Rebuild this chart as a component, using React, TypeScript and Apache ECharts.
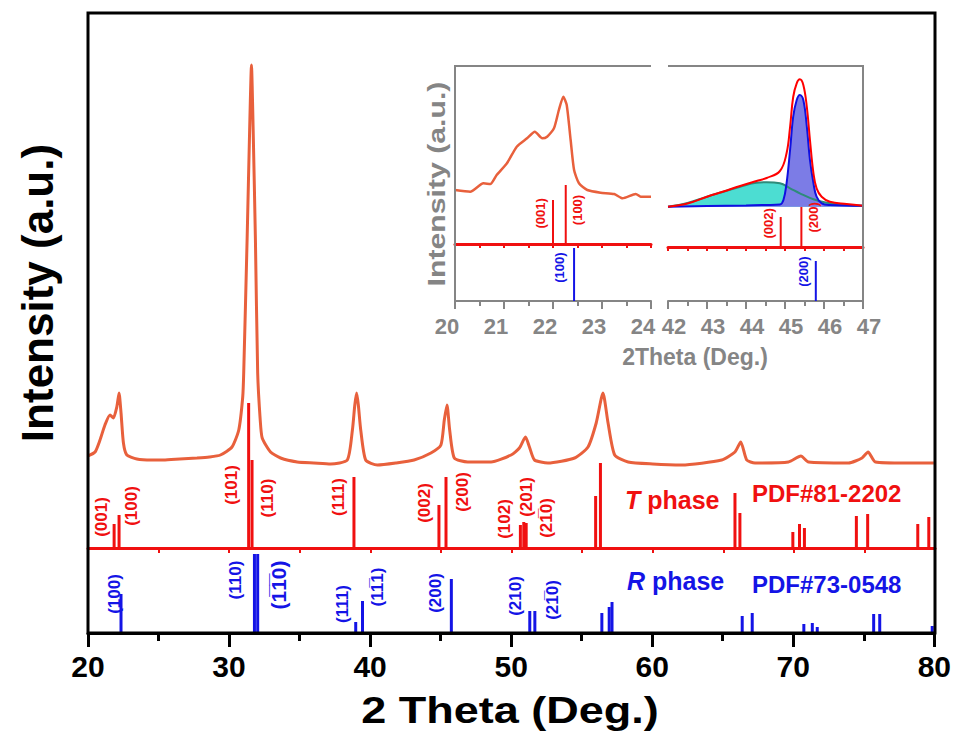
import React, { useEffect, useRef } from "react";
import * as echarts from "echarts";

const FONT = "'Liberation Sans', Arial, sans-serif";
const ORANGE = "#E8603C";
const RED = "#F01010";
const BLUE = "#1414E6";
const GRAY = "#858585";

// Main XRD pattern (2θ, intensity a.u.)
const xrdTheta = [20.0, 20.5, 20.85, 21.2, 21.56, 21.8, 22.04, 22.2, 22.34, 22.51, 22.75, 23.46, 24.5, 25.35, 26.5, 27.72, 28.6, 29.38, 30.2, 30.68, 30.96, 31.03, 31.27, 31.45, 31.58, 31.7, 31.86, 32.02, 32.2, 32.34, 32.93, 33.64, 34.82, 36.0, 37.19, 38.37, 38.73, 38.9, 39.03, 39.15, 39.32, 39.67, 40.5, 41.8, 43.1, 44.29, 45.0, 45.24, 45.43, 45.62, 45.95, 46.9, 48.55, 49.97, 50.56, 50.99, 51.27, 51.63, 52.58, 54.47, 55.42, 56.0, 56.48, 56.84, 57.31, 58.26, 60.0, 62.05, 64.89, 65.83, 66.24, 66.66, 67.25, 69.62, 70.5, 71.04, 73.88, 74.83, 75.26, 75.78, 77.91, 79.92];
const xrdInt = [92, 96, 108, 123, 133, 130, 141, 155, 135, 105, 93, 89, 88, 88, 89, 90, 91, 93, 101, 118, 151, 175, 308, 418, 483, 418, 308, 175, 128, 110, 96, 90, 86, 85, 84, 88, 118, 143, 155, 143, 118, 88, 83, 85, 88, 95, 103, 128, 143, 118, 90, 86, 86, 93, 100, 111, 101, 88, 85, 90, 101, 125, 155, 125, 93, 86, 84, 83, 88, 96, 106, 88, 85, 86, 92, 86, 85, 90, 96, 86, 85, 85];

// T phase reference, PDF#81-2202
const tTheta = [21.85, 22.2, 31.38, 31.62, 38.84, 44.86, 45.36, 50.63, 50.87, 51.04, 55.96, 56.3, 65.83, 66.18, 69.93, 70.4, 70.75, 74.43, 75.23, 78.78, 79.56];
const tInt = [24, 33, 145, 88, 71, 43, 71, 23, 26, 25, 52, 85, 55, 35, 16, 24, 20, 32, 34, 24, 31];
const tLabels = ["(001)", "(100)", "(101)", "(110)", "(111)", "(002)", "(200)", "(102)", "(201)", "(21\u03050)"];
const tLabelTheta = [20.97, 23.1, 30.2, 32.7, 37.78, 43.81, 46.54, 49.5, 51.04, 52.46];
const tLabelY = [31, 42, 63, 50, 51, 45, 56, 29, 51, 30];

// R phase reference, PDF#73-0548
const rTheta = [22.34, 31.8, 32.03, 38.98, 39.46, 45.76, 51.32, 51.68, 56.43, 56.95, 57.15, 66.38, 67.09, 70.75, 71.35, 71.7, 75.7, 76.13, 79.85];
const rInt = [39, 79, 79, 11, 32, 54, 22, 22, 20, 26, 31, 17, 20, 9, 10, 6, 19, 19, 7];
const rLabels = ["(100)", "(110)", "(1\u03051\u03050)", "(111)", "(11\u03051)", "(200)", "(210)", "(21\u03050)"];
const rLabelTheta = [21.87, 30.44, 33.49, 38.01, 40.5, 44.64, 50.33, 52.93];
const rLabelY = [39, 53, 48, 29, 46, 40, 37, 33];
const rLabelSize = [17, 17, 21, 17, 17, 17, 17, 17];

// Inset (left): 20–24°
const inLTheta = [20.0, 20.31, 20.58, 20.72, 20.85, 21.06, 21.26, 21.47, 21.63, 21.78, 21.88, 22.02, 22.12, 22.21, 22.28, 22.36, 22.43, 22.53, 22.7, 22.97, 23.25, 23.42, 23.69, 23.79, 24.0];
const inLInt = [54, 52.3, 60.7, 60, 69, 80.7, 97.3, 105.7, 112.3, 105.7, 107.3, 115.7, 134, 147.3, 139, 104, 74, 60.7, 54, 51.3, 50, 45.7, 50, 47.3, 47.3];
const inLT = [[22.0, 44], [22.26, 59]];
const inLR = [[22.43, 53]];
const inLTLabels = [[21.74, 30.7, "(001)"], [22.5, 34, "(100)"]];
const inLRLabels = [[22.14, 33.3, "(100)"]];

// Inset (right): 42–47°, observed points and peak fit
const obsTheta = [42.0, 42.1, 42.2, 42.3, 42.4, 42.5, 42.6, 42.7, 42.8, 42.9, 43.0, 43.1, 43.2, 43.3, 43.4, 43.5, 43.6, 43.7, 43.8, 43.9, 44.0, 44.1, 44.2, 44.3, 44.4, 44.5, 44.6, 44.7, 44.8, 44.9, 45.0, 45.1, 45.15, 45.2, 45.25, 45.3, 45.35, 45.4, 45.45, 45.5, 45.55, 45.6, 45.65, 45.7, 45.75, 45.8, 45.9, 46.0, 46.1, 46.2, 46.3, 46.4, 46.5, 46.6, 46.7, 46.8, 46.9, 47.0];
const obsInt = [41, 40, 42, 43, 42, 44, 45, 47, 46, 49, 51, 50, 53, 55, 56, 58, 57, 60, 62, 61, 63, 64, 66, 65, 67, 70, 73, 75, 77, 82, 92, 112, 128, 145, 158, 166, 172, 169, 160, 146, 128, 108, 92, 78, 66, 58, 52, 48, 46, 45, 43, 44, 42, 43, 41, 42, 40, 41];
const fitTheta = [42.0, 42.5, 43.0, 43.42, 43.85, 44.27, 44.53, 44.87, 45.04, 45.13, 45.21, 45.3, 45.38, 45.47, 45.56, 45.64, 45.73, 45.81, 45.94, 46.15, 46.58, 47.0];
const fitInt = [40.3, 43.5, 50.3, 55.5, 61, 66, 69, 76, 93.7, 120, 150, 163.7, 167.7, 162, 140, 107, 73.7, 58.7, 50.3, 45.3, 43, 41.3];
const pk1Theta = [42.0, 43.0, 44.0, 44.5, 44.87, 44.96, 45.04, 45.13, 45.21, 45.3, 45.38, 45.47, 45.56, 45.64, 45.73, 45.81, 45.94, 46.15, 47.0];
const pk1Int = [40.3, 41, 41.5, 42, 42.5, 47, 63.7, 97, 130.3, 147, 152, 147, 120.3, 87, 63.7, 50.3, 43.7, 42, 41.3];
const pk2Theta = [42.0, 42.5, 43.0, 43.42, 43.85, 44.27, 44.53, 44.87, 45.13, 45.38, 45.73, 46.07, 46.58, 47.0];
const pk2Int = [40.3, 44, 50.3, 55.3, 60.3, 64.3, 64.7, 63.7, 58.7, 53.7, 47.7, 44.3, 42, 41.3];
const inRT = [[44.89, 30], [45.42, 48]];
const inRR = [[45.79, 40]];
const inRTLabels = [[44.57, 23.7, "(002)"], [45.73, 29.7, "(200)"]];
const inRRLabels = [[45.47, 29.3, "(200)"]];

const zip = (a: number[], b: number[]) => a.map((v, i) => [v, b[i]]);

function stickSeries(data: number[][], color: string, axis: number, width = 3) {
  return {
    type: "custom",
    xAxisIndex: axis,
    yAxisIndex: axis,
    data,
    encode: { x: 0, y: 1 },
    clip: false,
    renderItem: (_p: any, api: any) => {
      const x = api.value(0);
      const h = api.value(1);
      const a = api.coord([x, 0]);
      const b = api.coord([x, h]);
      return {
        type: "line",
        shape: { x1: a[0], y1: a[1], x2: b[0], y2: b[1] },
        style: { stroke: color, lineWidth: width },
      };
    },
  };
}

function labelSeries(data: any[][], color: string, axis: number, sizes: number[] | number) {
  return {
    type: "custom",
    xAxisIndex: axis,
    yAxisIndex: axis,
    data,
    encode: { x: 0, y: 1 },
    clip: false,
    z: 5,
    renderItem: (p: any, api: any) => {
      const c = api.coord([api.value(0), api.value(1)]);
      const fs = Array.isArray(sizes) ? sizes[p.dataIndex] : sizes;
      return {
        type: "text",
        x: c[0],
        y: c[1],
        rotation: Math.PI / 2,
        style: {
          text: data[p.dataIndex][2],
          fill: color,
          fontSize: fs,
          fontWeight: "bold",
          fontFamily: FONT,
          align: "center",
          verticalAlign: "middle",
        },
      };
    },
  };
}

export default function App() {
  const ref = useRef<HTMLDivElement>(null);
  useEffect(() => {
    if (!ref.current) return;
    const chart = echarts.init(ref.current, null, { renderer: "svg" });
    const hidden = { show: false };
    const yHidden = (max: number) => ({ type: "value", min: 0, max, show: false });
    const xSimple = (gi: number, min: number, max: number) => ({
      type: "value", gridIndex: gi, min, max, show: false,
    });
    const redAxis = (gi: number, min: number, max: number, interval: number, tickLen: number) => ({
      type: "value", gridIndex: gi, min, max, interval,
      axisLine: { show: true, onZero: false, lineStyle: { color: RED, width: 3 } },
      axisTick: { show: true, inside: false, length: tickLen, lineStyle: { color: RED, width: 2 } },
      axisLabel: { show: false },
      splitLine: hidden,
    });
    const grayAxis = (gi: number, min: number, max: number, padding: number[]) => ({
      type: "value", gridIndex: gi, min, max, interval: 1,
      axisLine: { show: true, onZero: false, lineStyle: { color: GRAY, width: 2 } },
      axisTick: { show: true, length: 8, lineStyle: { color: GRAY, width: 2 } },
      minorTick: { show: true, splitNumber: 2, length: 5, lineStyle: { color: GRAY, width: 2 } },
      axisLabel: {
        show: true, color: GRAY, fontSize: 22, fontWeight: "bold", fontFamily: FONT, margin: 14, padding,
      },
      splitLine: hidden,
    });
    const tLabelData = tLabels.map((t, i) => [tLabelTheta[i], tLabelY[i], t]);
    const rLabelData = rLabels.map((t, i) => [rLabelTheta[i], rLabelY[i], t]);

    chart.setOption({
      animation: false,
      backgroundColor: "#fff",
      grid: [
        { left: 88, right: 19, top: 13, bottom: 183 },
        { left: 88, right: 19, top: 383, bottom: 183 },
        { left: 88, right: 19, top: 548, bottom: 98 },
        { left: 455, right: 303, top: 66, bottom: 487 },
        { left: 455, right: 303, top: 244, bottom: 430 },
        { left: 668, right: 91, top: 66, bottom: 484 },
        { left: 668, right: 91, top: 247, bottom: 430 },
      ],
      xAxis: [
        xSimple(0, 20, 80),
        redAxis(1, 20, 80, 5, 5),
        {
          type: "value", gridIndex: 2, min: 20, max: 80, interval: 10,
          axisLine: { show: true, onZero: false, lineStyle: { color: "#000", width: 3 } },
          axisTick: { show: true, length: 14, lineStyle: { color: "#000", width: 3 } },
          minorTick: { show: true, splitNumber: 2, length: 8, lineStyle: { color: "#000", width: 3 } },
          axisLabel: { color: "#000", fontSize: 30, fontWeight: "bold", fontFamily: FONT, margin: 18 },
          splitLine: hidden,
        },
        redAxis(3, 20, 24, 0.5, 4),
        grayAxis(4, 20, 24, [0, 16, 0, 0]),
        redAxis(5, 42, 47, 0.5, 4),
        grayAxis(6, 42, 47, [0, 0, 0, 12]),
      ],
      yAxis: [
        { ...yHidden(535), gridIndex: 0 },
        { ...yHidden(165), gridIndex: 1 },
        { ...yHidden(85), gridIndex: 2 },
        { ...yHidden(178), gridIndex: 3 },
        { ...yHidden(57), gridIndex: 4 },
        { ...yHidden(181), gridIndex: 5 },
        { ...yHidden(54), gridIndex: 6 },
      ],
      series: [
        {
          type: "line", xAxisIndex: 0, yAxisIndex: 0, data: zip(xrdTheta, xrdInt),
          showSymbol: false, lineStyle: { color: ORANGE, width: 3 }, smooth: 0.2,
        },
        stickSeries(zip(tTheta, tInt), RED, 1),
        labelSeries(tLabelData, RED, 1, 17),
        stickSeries(zip(rTheta, rInt), BLUE, 2),
        labelSeries(rLabelData, BLUE, 2, rLabelSize),
        {
          type: "line", xAxisIndex: 3, yAxisIndex: 3, data: zip(inLTheta, inLInt),
          showSymbol: false, lineStyle: { color: ORANGE, width: 2.5 }, smooth: 0.2,
        },
        stickSeries(inLT, RED, 3, 2),
        labelSeries(inLTLabels, RED, 3, 13),
        stickSeries(inLR, BLUE, 4, 2),
        labelSeries(inLRLabels, BLUE, 4, 13),
        {
          type: "line", xAxisIndex: 5, yAxisIndex: 5, data: zip(pk2Theta, pk2Int),
          showSymbol: false, smooth: 0.4, lineStyle: { color: "#2E8B7A", width: 2 },
          areaStyle: { color: "#4CDDD2", opacity: 1, origin: 40.3 },
        },
        {
          type: "line", xAxisIndex: 5, yAxisIndex: 5, data: zip(pk1Theta, pk1Int),
          showSymbol: false, smooth: 0.4, lineStyle: { color: "#1010E0", width: 2 },
          areaStyle: { color: "#7C7CE6", opacity: 1, origin: 40.3 },
        },
        {
          type: "scatter", xAxisIndex: 5, yAxisIndex: 5, data: zip(obsTheta, obsInt),
          symbol: "emptyCircle", symbolSize: 5,
          itemStyle: { color: "#fff", borderColor: ORANGE, borderWidth: 1.5, opacity: 0.9 },
        },
        {
          type: "line", xAxisIndex: 5, yAxisIndex: 5, data: zip(fitTheta, fitInt),
          showSymbol: false, smooth: 0.4, lineStyle: { color: "#FF0000", width: 2 },
        },
        stickSeries(inRT, RED, 5, 2),
        labelSeries(inRTLabels, RED, 5, 13),
        stickSeries(inRR, BLUE, 6, 2),
        labelSeries(inRRLabels, BLUE, 6, 13),
      ],
      graphic: [
        {
          type: "rect", shape: { x: 88, y: 13, width: 847, height: 620 },
          style: { fill: "none", stroke: "#000", lineWidth: 3 }, z: 100, silent: true,
        },
        {
          type: "polyline", shape: { points: [[455, 301], [455, 66], [651, 66]] },
          style: { fill: "none", stroke: GRAY, lineWidth: 2 }, z: 100,
        },
        {
          type: "polyline", shape: { points: [[668, 66], [863, 66], [863, 301]] },
          style: { fill: "none", stroke: GRAY, lineWidth: 2 }, z: 100,
        },
        {
          type: "text", x: 37, y: 293, rotation: Math.PI / 2,
          style: {
            text: "Intensity (a.u.)", fill: "#000", fontSize: 44, fontWeight: "bold", fontFamily: FONT,
            align: "center", verticalAlign: "middle",
          },
        },
        {
          type: "text", x: 510, y: 711, scaleX: 1.25,
          style: {
            text: "2 Theta (Deg.)", fill: "#000", fontSize: 36, fontWeight: "bold", fontFamily: FONT,
            align: "center", verticalAlign: "middle",
          },
        },
        {
          type: "text", x: 437, y: 184, rotation: Math.PI / 2, scaleX: 1.26,
          style: {
            text: "Intensity (a.u.)", fill: GRAY, fontSize: 24, fontWeight: "bold", fontFamily: FONT,
            align: "center", verticalAlign: "middle",
          },
        },
        {
          type: "text", x: 695, y: 357,
          style: {
            text: "2Theta (Deg.)", fill: GRAY, fontSize: 23, fontWeight: "bold", fontFamily: FONT,
            align: "center", verticalAlign: "middle",
          },
        },
        {
          type: "text", x: 625, y: 500,
          style: {
            text: "{i|T} phase", fill: RED, fontSize: 25, fontWeight: "bold", fontFamily: FONT,
            align: "left", verticalAlign: "middle",
            rich: { i: { fontStyle: "italic", fontSize: 25, fontWeight: "bold", fontFamily: FONT, fill: RED } },
          },
        },
        {
          type: "text", x: 752, y: 493,
          style: {
            text: "PDF#81-2202", fill: RED, fontSize: 24, fontWeight: "bold", fontFamily: FONT,
            align: "left", verticalAlign: "middle",
          },
        },
        {
          type: "text", x: 627, y: 581,
          style: {
            text: "{i|R} phase", fill: BLUE, fontSize: 25, fontWeight: "bold", fontFamily: FONT,
            align: "left", verticalAlign: "middle",
            rich: { i: { fontStyle: "italic", fontSize: 25, fontWeight: "bold", fontFamily: FONT, fill: BLUE } },
          },
        },
        {
          type: "text", x: 752, y: 584,
          style: {
            text: "PDF#73-0548", fill: BLUE, fontSize: 24, fontWeight: "bold", fontFamily: FONT,
            align: "left", verticalAlign: "middle",
          },
        },
      ],
    });
    return () => chart.dispose();
  }, []);
  return (
    <div
      ref={ref}
      style={{ position: "absolute", left: 0, top: 0, width: 954, height: 731, background: "#fff" }}
    />
  );
}
